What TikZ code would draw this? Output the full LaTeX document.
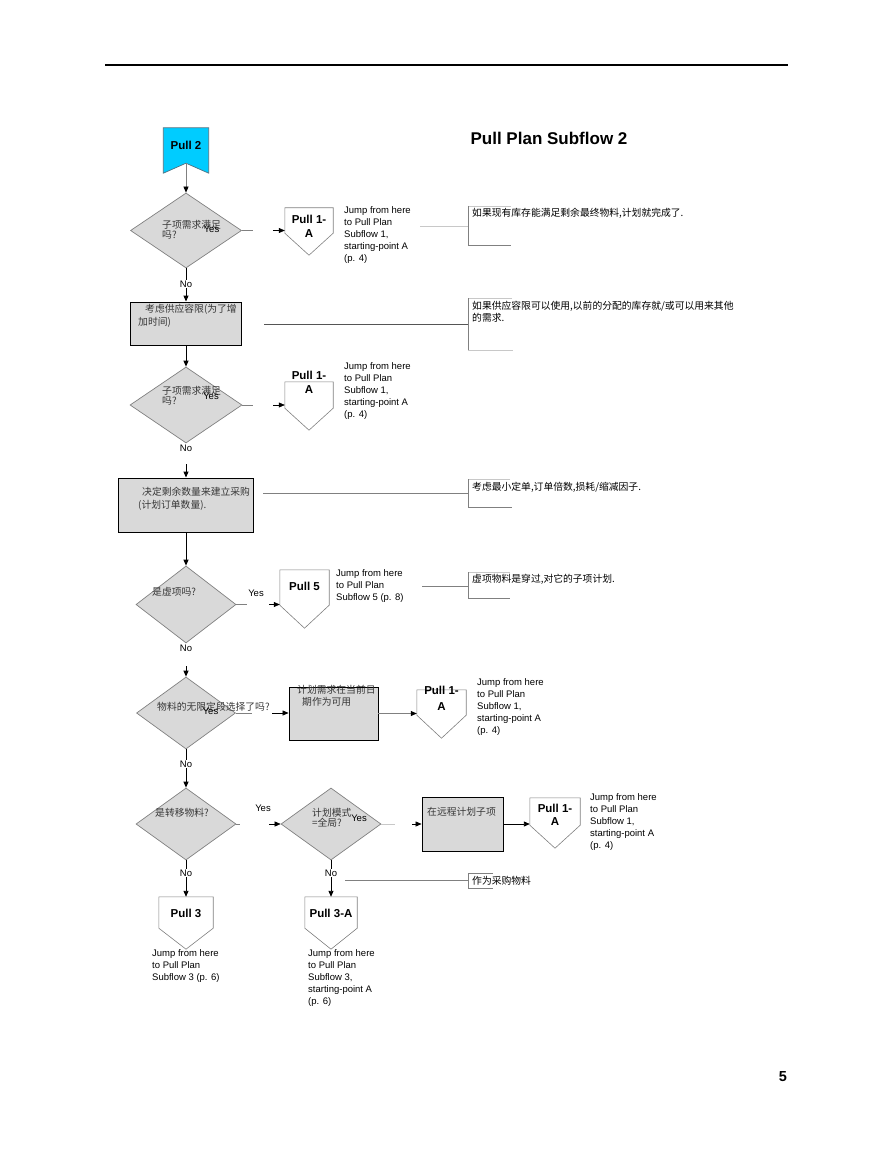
\documentclass[tikz,border=0pt]{standalone}
\usepackage{fontspec}
\setmainfont{Liberation Sans}
\newfontfamily\cjk{Noto Sans CJK SC}
\usetikzlibrary{arrows.meta,shapes.geometric,calc}
\definecolor{boxfill}{RGB}{217,217,217}
\definecolor{cyanfill}{RGB}{0,204,255}
\definecolor{lgray}{RGB}{200,200,200}
\definecolor{mgray}{RGB}{128,128,128}
\definecolor{dgray}{RGB}{85,85,85}
\definecolor{txtgray}{RGB}{55,55,55}
\definecolor{bannerline}{RGB}{80,112,128}
\newcommand{\pentpath}[2]{\draw[opline] (#1.north west) -- (#1.north east) -- (#1.south east) -- ($(#1.south)+(0,#2)$) -- (#1.south west) -- cycle;}
\tikzset{
  dia/.style={diamond, draw=mgray, fill=boxfill, line width=0.7pt, inner sep=0pt},
  proc/.style={rectangle, draw=black, fill=boxfill, line width=0.9pt, inner sep=0pt},
  opbox/.style={rectangle, draw=none, inner sep=0pt},
  opline/.style={draw=mgray, line width=0.6pt, fill=white},
  lbl/.style={inner sep=0pt, font=\fontsize{9.5}{12}\selectfont},
  jump/.style={lbl, anchor=west, align=left},
  cn/.style={inner sep=0pt, anchor=west, align=left, font=\cjk\fontsize{9.8}{10}\selectfont, text=txtgray},
  note/.style={inner sep=0pt, anchor=west, align=left, font=\cjk\fontsize{9.8}{12}\selectfont, text=black},
  pulltxt/.style={inner sep=0pt, font=\bfseries\fontsize{11.5}{14}\selectfont},
  grayline/.style={draw=mgray, line width=0.7pt},
  lgrayline/.style={draw=lgray, line width=0.8pt},
  mgrayline/.style={draw=mgray, line width=0.8pt},
  garrow/.style={draw=mgray, line width=0.7pt, -{Triangle[length=6pt,width=5pt,color=black]}},
  barrow/.style={draw=black, line width=0.9pt, -{Triangle[length=6pt,width=5pt]}},
  thinarrow/.style={draw=black, line width=0.6pt, -{Triangle[length=6pt,width=5pt]}},
  nolab/.style={lbl, fill=white, inner sep=1pt},
}
\begin{document}
\begin{tikzpicture}[x=1pt,y=-1pt]
\useasboundingbox (0,0) rectangle (893,1155);
% header, title, page number
\coordinate (hl) at (105,65); \coordinate (hr) at (788,65);
\draw[line width=1.3pt] (hl) -- (hr);
\node[inner sep=0pt, font=\bfseries\fontsize{17}{20}\selectfont] (title) at (549,138) {Pull Plan Subflow 2};
\node[inner sep=0pt, font=\bfseries\fontsize{14.5}{16}\selectfont] (pg) at (783,1077) {5};

% Pull 2 banner
\node[opbox, minimum width=45, minimum height=45] (pull2) at (186,150.5) {};
\coordinate (pull2n) at ($(pull2.south)+(0,-10)$);
\draw[draw=bannerline, fill=cyanfill, line width=0.7pt] (pull2.north west) -- (pull2.north east) -- (pull2.south east) -- (pull2n) -- (pull2.south west) -- cycle;
\node[pulltxt] (pull2t) at (186,145) {Pull 2};

% ---------- decision 1
\node[dia, minimum width=111, minimum height=75] (d1) at (186,230.5) {};
\draw[garrow] (pull2n) -- (d1.north);
\node[opbox, minimum width=48, minimum height=25] (p1) at (309,220.5) {};
\pentpath{p1}{22}
\node[pulltxt] (p1t1) at (309,219) {Pull 1-};
\node[pulltxt] (p1t2) at (309,234) {A};
\node[jump] (p1j) at (344,235) {Jump from here\\to Pull Plan\\Subflow 1,\\starting-point A\\(p. 4)};
\coordinate (d1a) at ($(d1.east)+(11,0)$);
\coordinate (d1b) at ($(d1.east)+(31,0)$);
\draw[grayline] (d1.east) -- (d1a);
\draw[thinarrow] (d1b) -- (p1.west |- d1.east);
\node[cn] (d1t) at (162,230) {子项需求满足\\吗?};
\node[lbl] (d1y) at (211.5,229) {Yes};
% note 1
\coordinate (a1s) at (420,226); \coordinate (a1e) at (468,226);
\draw[lgrayline] (a1s) -- (a1e);
\draw[lgrayline] (511,206) -- (468,206);
\draw[mgrayline] (468,206) -- (468,245) -- (511,245);
\node[note] (a1) at (472,213) {如果现有库存能满足剩余最终物料,计划就完成了.};

% ---------- process 2
\node[proc, minimum width=111, minimum height=43] (r2) at (186,323.5) {};
\draw[barrow] (d1.south) -- node[nolab, pos=0.47] {No} (r2.north);
\node[cn] (r2t1) at (145,309) {考虑供应容限(为了增};
\node[cn] (r2t2) at (138,322) {加时间)};
\coordinate (a2s) at (264,324); \coordinate (a2e) at (468,324);
\draw[draw=dgray, line width=0.8pt] (a2s) -- (a2e);
\draw[lgrayline] (512,298) -- (468,298);
\draw[mgrayline] (468,298) -- (468,350);
\draw[lgrayline] (468,350) -- (513,350);
\node[note] (a2) at (472,312) {如果供应容限可以使用,以前的分配的库存就/或可以用来其他\\的需求.};

% ---------- decision 2
\node[dia, minimum width=112, minimum height=76] (d2) at (186,405) {};
\draw[barrow] (r2.south) -- (d2.north);
\node[opbox, minimum width=48, minimum height=26] (p2) at (309,395) {};
\pentpath{p2}{22}
\node[pulltxt] (p2t1) at (309,375) {Pull 1-};
\node[pulltxt] (p2t2) at (309,390) {A};
\node[jump] (p2j) at (344,391) {Jump from here\\to Pull Plan\\Subflow 1,\\starting-point A\\(p. 4)};
\coordinate (d2a) at ($(d2.east)+(11,0)$);
\coordinate (d2b) at ($(d2.east)+(31,0)$);
\draw[grayline] (d2.east) -- (d2a);
\draw[thinarrow] (d2b) -- (p2.west |- d2.east);
\node[cn] (d2t) at (162,395.5) {子项需求满足\\吗?};
\node[lbl] (d2y) at (211,396) {Yes};
\node[lbl] (d2no) at (186,448) {No};
\coordinate (d2n) at (186,464);

% ---------- process 3
\node[proc, minimum width=135, minimum height=54] (r3) at (186,505) {};
\draw[barrow] (d2n) -- (r3.north);
\node[cn] (r3t1) at (142,492) {决定剩余数量来建立采购};
\node[cn] (r3t2) at (138,505) {(计划订单数量).};
\coordinate (a3s) at (263,493); \coordinate (a3e) at (468,493);
\draw[mgrayline] (a3s) -- (a3e);
\draw[lgrayline] (510,479) -- (468,479);
\draw[mgrayline] (468,479) -- (468,507) -- (512,507);
\node[note] (a3) at (472,487) {考虑最小定单,订单倍数,损耗/缩减因子.};

% ---------- decision 4
\node[dia, minimum width=100, minimum height=77] (d4) at (186,604.5) {};
\draw[barrow] (r3.south) -- (d4.north);
\node[opbox, minimum width=49, minimum height=35] (p3) at (304.5,587.5) {};
\pentpath{p3}{23}
\node[pulltxt] (p3t) at (304.5,586) {Pull 5};
\node[jump] (p3j) at (336,586) {Jump from here\\to Pull Plan\\Subflow 5 (p. 8)};
\coordinate (d4a) at (247,604.5);
\coordinate (d4b) at (269,604.5);
\draw[grayline] (d4.east) -- (d4a);
\draw[thinarrow] (d4b) -- (p3.west |- d4.east);
\node[cn] (d4t) at (152,592) {是虚项吗?};
\node[lbl] (d4y) at (256,593) {Yes};
\coordinate (a4s) at (422,586); \coordinate (a4e) at (468,586);
\draw[mgrayline] (a4s) -- (a4e);
\draw[lgrayline] (510,572) -- (468,572);
\draw[mgrayline] (468,572) -- (468,598) -- (510,598);
\node[note] (a4) at (472,579) {虚项物料是穿过,对它的子项计划.};
\node[lbl] (d4no) at (186,648) {No};
\coordinate (d4n) at (186,666);

% ---------- decision 5
\node[dia, minimum width=99, minimum height=72] (d5) at (186,713) {};
\draw[barrow] (d4n) -- (d5.north);
\node[proc, minimum width=89, minimum height=53] (r5) at (333.5,713.5) {};
\coordinate (d5a) at (252,713);
\coordinate (d5b) at (272,713);
\draw[grayline] (d5.east) -- (d5a);
\draw[thinarrow] (d5b) -- (r5.west |- d5.east);
\node[opbox, minimum width=49, minimum height=25] (p4) at (441.5,702.5) {};
\pentpath{p4}{23}
\draw[garrow] (r5.east) -- (p4.west |- r5.east);
\node[pulltxt] (p4t1) at (441.5,690) {Pull 1-};
\node[pulltxt] (p4t2) at (441.5,707) {A};
\node[jump] (p4j) at (477,707) {Jump from here\\to Pull Plan\\Subflow 1,\\starting-point A\\(p. 4)};
\node[cn] (r5t1) at (297,690) {计划需求在当前日};
\node[cn] (r5t2) at (302,702) {期作为可用};
\node[cn] (d5t) at (157,707) {物料的无限定段选择了吗?};
\node[lbl] (d5y) at (210.5,711) {Yes};

% ---------- decision 6 and 7
\node[dia, minimum width=100, minimum height=72] (d6) at (186,824) {};
\draw[barrow] (d5.south) -- node[nolab, pos=0.385] {No} (d6.north);
\node[dia, minimum width=100, minimum height=72] (d7) at (331,824) {};
\coordinate (d6a) at (240,824);
\coordinate (d6b) at (269,824);
\draw[grayline] (d6.east) -- (d6a);
\draw[thinarrow] (d6b) -- (d7.west);
\node[cn] (d6t) at (155,813) {是转移物料?};
\node[lbl] (d6y) at (263,808) {Yes};
\node[cn] (d7t) at (312,818) {计划模式\\=全局?};
\node[lbl] (d7y) at (359,818) {Yes};
\node[proc, minimum width=81, minimum height=54] (r7) at (462.5,824) {};
\coordinate (d7a) at (395,824);
\coordinate (d7b) at (412,824);
\draw[lgrayline] (d7.east) -- (d7a);
\draw[thinarrow] (d7b) -- (r7.west);
\node[cn] (r7t) at (427,812) {在远程计划子项};
\node[opbox, minimum width=50, minimum height=27] (p5) at (555,811.5) {};
\pentpath{p5}{23}
\draw[barrow] (r7.east) -- (p5.west |- r7.east);
\node[pulltxt] (p5t1) at (555,808) {Pull 1-};
\node[pulltxt] (p5t2) at (555,822) {A};
\node[jump] (p5j) at (590,822) {Jump from here\\to Pull Plan\\Subflow 1,\\starting-point A\\(p. 4)};

% ---------- Pull 3 and Pull 3-A
\node[opbox, minimum width=54, minimum height=31] (p6) at (186,912.5) {};
\pentpath{p6}{21}
\draw[barrow] (d6.south) -- node[nolab, pos=0.35] {No} (p6.north);
\node[pulltxt] (p6t) at (186,913) {Pull 3};
\node[jump] (p6j) at (152,966) {Jump from here\\to Pull Plan\\Subflow 3 (p. 6)};
\node[opbox, minimum width=52, minimum height=31] (p7) at (331,912.5) {};
\pentpath{p7}{21}
\draw[barrow] (d7.south) -- node[nolab, pos=0.35] {No} (p7.north);
\node[pulltxt] (p7t) at (331,913) {Pull 3-A};
\node[jump] (p7j) at (308,978) {Jump from here\\to Pull Plan\\Subflow 3,\\starting-point A\\(p. 6)};
\coordinate (a7s) at (345,880); \coordinate (a7e) at (468,880);
\draw[mgrayline] (a7s) -- (a7e);
\draw[mgrayline] (493,873) -- (468,873) -- (468,888) -- (493,888);
\node[note] (a7) at (472,880.5) {作为采购物料};
\end{tikzpicture}
\end{document}
